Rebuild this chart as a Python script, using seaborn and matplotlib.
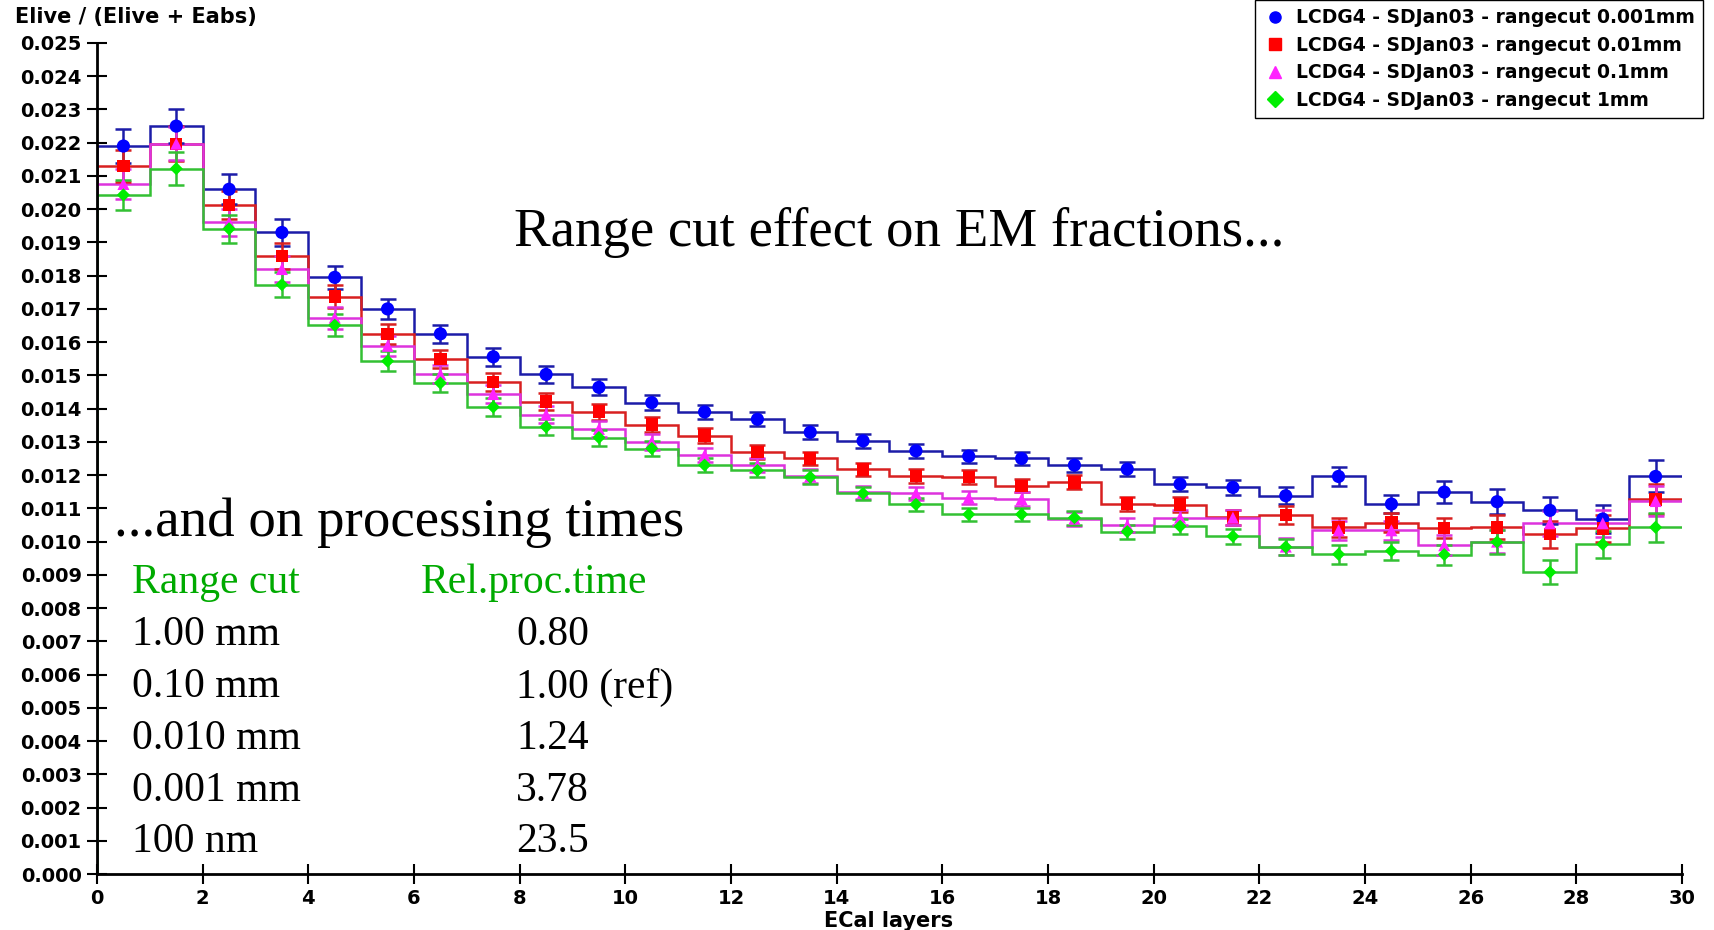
import numpy as np
import pandas as pd
import matplotlib.pyplot as plt
import seaborn as sns

# ECal layer bins
edges = np.arange(31)
layers = edges[:-1] + 0.5

# Elive / (Elive + Eabs) per layer, one array per range cut
cut_0001 = [0.0219, 0.0225, 0.0206, 0.0193, 0.01795, 0.0170, 0.01625, 0.01556, 0.01503, 0.01464,
            0.01418, 0.0139, 0.01368, 0.01329, 0.01303, 0.01273, 0.01257, 0.0125, 0.0123, 0.01218,
            0.01173, 0.01163, 0.01138, 0.01196, 0.01113, 0.01149, 0.0112, 0.01094, 0.01068, 0.01196]
cut_001 = [0.0213, 0.02197, 0.02013, 0.01859, 0.01737, 0.01625, 0.01549, 0.0148, 0.01421, 0.01391,
           0.01352, 0.01319, 0.0127, 0.0125, 0.01217, 0.01197, 0.01194, 0.01168, 0.01178, 0.01114,
           0.01111, 0.01073, 0.0108, 0.01043, 0.01057, 0.01041, 0.01043, 0.01022, 0.0104, 0.01127]
cut_01 = [0.02076, 0.02197, 0.0196, 0.0182, 0.01674, 0.01589, 0.01503, 0.01444, 0.01382, 0.01339,
          0.013, 0.0126, 0.0123, 0.01197, 0.01148, 0.01145, 0.01132, 0.01128, 0.01069, 0.01049,
          0.01072, 0.01072, 0.00985, 0.01034, 0.01034, 0.00989, 0.0100, 0.01055, 0.01055, 0.01122]
cut_1 = [0.02043, 0.02122, 0.01941, 0.01773, 0.01651, 0.01543, 0.01477, 0.01405, 0.01345, 0.01313,
         0.0128, 0.0123, 0.01214, 0.01194, 0.01145, 0.01112, 0.01082, 0.01082, 0.01072, 0.0103,
         0.01046, 0.01016, 0.00984, 0.00962, 0.00972, 0.00961, 0.00999, 0.00908, 0.00992, 0.01043]

err_0001 = [0.0005, 0.0005, 0.00045, 0.0004, 0.00035, 0.0003, 0.00028, 0.00027, 0.00025, 0.00024,
            0.00023, 0.00022, 0.00021, 0.00021, 0.0002, 0.0002, 0.0002, 0.0002, 0.00021, 0.00021,
            0.00022, 0.00023, 0.00025, 0.00029, 0.00028, 0.00032, 0.00038, 0.0004, 0.00042, 0.00048]
err_001 = [0.00048, 0.00052, 0.00043, 0.0004, 0.00034, 0.0003, 0.00028, 0.00026, 0.00025, 0.00024,
           0.00023, 0.00022, 0.00021, 0.00021, 0.0002, 0.0002, 0.0002, 0.0002, 0.00021, 0.00021,
           0.00022, 0.00023, 0.00026, 0.00028, 0.00029, 0.00031, 0.00036, 0.0004, 0.00041, 0.00045]
err_01 = [0.00045, 0.0005, 0.00042, 0.00038, 0.00033, 0.0003, 0.00027, 0.00026, 0.00025, 0.00024,
          0.00023, 0.00022, 0.00021, 0.00021, 0.0002, 0.0002, 0.0002, 0.0002, 0.00021, 0.00021,
          0.00022, 0.00023, 0.00025, 0.00028, 0.00028, 0.0003, 0.00035, 0.00038, 0.0004, 0.00044]
err_1 = [0.00045, 0.0005, 0.00042, 0.00038, 0.00033, 0.0003, 0.00027, 0.00026, 0.00025, 0.00024,
         0.00023, 0.00022, 0.00021, 0.00021, 0.0002, 0.0002, 0.0002, 0.0002, 0.00021, 0.00021,
         0.00022, 0.00023, 0.00025, 0.00028, 0.00028, 0.0003, 0.00035, 0.00036, 0.0004, 0.00044]

series_labels = ['LCDG4 - SDJan03 - rangecut 0.001mm',
                 'LCDG4 - SDJan03 - rangecut 0.01mm',
                 'LCDG4 - SDJan03 - rangecut 0.1mm',
                 'LCDG4 - SDJan03 - rangecut 1mm']
series_values = [cut_0001, cut_001, cut_01, cut_1]
series_errors = [err_0001, err_001, err_01, err_1]
marker_colors = ['#0000ff', '#ff0000', '#ff22ff', '#00ee00']
line_colors = ['#1c1ca8', '#d82020', '#dd33dd', '#33c033']
marker_shapes = ['o', 's', '^', 'D']
marker_sizes = [90, 80, 75, 45]

# processing time table
table_cuts = ['1.00 mm', '0.10 mm', '0.010 mm', '0.001 mm', '100 nm']
table_times = ['0.80', '1.00 (ref)', '1.24', '3.78', '23.5']

rows = []
for lab, vals in zip(series_labels, series_values):
    for x, v in zip(layers, vals):
        rows.append({'layer': x, 'frac': v, 'cut': lab})
df = pd.DataFrame(rows)

sns.set_theme(style='white')
plt.rcParams['font.family'] = ['DejaVu Sans']
plt.rcParams['text.color'] = 'black'
plt.rcParams['xtick.color'] = 'black'
plt.rcParams['ytick.color'] = 'black'

fig = plt.figure(figsize=(17.15, 9.3), dpi=100)
ax = fig.add_axes([97 / 1715, 56 / 930, 1585 / 1715, 831 / 930])

for vals, errs, lc in zip(series_values, series_errors, line_colors):
    ax.stairs(vals, edges, baseline=None, color=lc, linewidth=1.8, zorder=2)
    ax.vlines(edges[0], 0, vals[0], color=lc, linewidth=1.8, zorder=2)
    ax.errorbar(layers, vals, yerr=errs, fmt='none', ecolor=lc, elinewidth=1.8,
                capsize=6, capthick=1.8, zorder=3)

sns.scatterplot(data=df, x='layer', y='frac', hue='cut', style='cut', size='cut',
                hue_order=series_labels, palette=marker_colors,
                markers=dict(zip(series_labels, marker_shapes)),
                sizes=dict(zip(series_labels, marker_sizes)),
                linewidth=0, legend=False, zorder=4, ax=ax)

ax.set_xlim(0, 30)
ax.set_ylim(0, 0.025)
ax.set_xticks(np.arange(0, 31, 2))
ax.set_yticks(np.arange(0, 0.0251, 0.001))
ax.yaxis.set_major_formatter(plt.FormatStrFormatter('%.3f'))
ax.set_xlabel('')
ax.set_ylabel('')
for side in ['top', 'right']:
    ax.spines[side].set_visible(False)
for side in ['left', 'bottom']:
    ax.spines[side].set_color('black')
    ax.spines[side].set_linewidth(2)
ax.tick_params(axis='both', direction='inout', length=15, width=1.5, color='black',
               labelsize=14, labelcolor='black', left=True, bottom=True)
for t in ax.get_xticklabels() + ax.get_yticklabels():
    t.set_fontweight('bold')
ax.patch.set_alpha(0)

fig.text(15 / 1715, 1 - 17 / 930, 'Elive / (Elive + Eabs)', fontsize=15, fontweight='bold',
         va='center', ha='left')
fig.text(889 / 1715, 1 - 921 / 930, 'ECal layers', fontsize=15, fontweight='bold',
         va='center', ha='center')

# legend
handles = [plt.Line2D([], [], linestyle='none', marker=m, markersize=8, color=c)
           for m, c in zip(marker_shapes, marker_colors)]
fig.legend(handles, series_labels, loc='upper right', bbox_to_anchor=(1703 / 1715, 1.0),
           frameon=True, fancybox=False, edgecolor='black', framealpha=1,
           prop={'weight': 'bold', 'size': 13.5}, handletextpad=0.5, handlelength=1.2,
           labelspacing=0.45, borderpad=0.45, borderaxespad=0)

# slide annotations
serif = ['Liberation Serif', 'DejaVu Serif']
green = '#00aa00'
fig.text(514 / 1715, 1 - 233 / 930, 'Range cut effect on EM fractions...', family=serif,
         fontsize=39.5, va='center', ha='left')
fig.text(114 / 1715, 1 - 523 / 930, '...and on processing times', family=serif,
         fontsize=39.5, va='center', ha='left')
fig.text(132 / 1715, 1 - 583 / 930, 'Range cut', family=serif, fontsize=30, color=green,
         va='center', ha='left')
fig.text(421 / 1715, 1 - 583 / 930, 'Rel.proc.time', family=serif, fontsize=30, color=green,
         va='center', ha='left')
row_y = [635, 687, 739, 791, 842]
for y, c, t in zip(row_y, table_cuts, table_times):
    fig.text(132 / 1715, 1 - y / 930, c, family=serif, fontsize=30, va='center', ha='left')
    fig.text(516 / 1715, 1 - y / 930, t, family=serif, fontsize=30, va='center', ha='left')

fig.savefig('out.png', dpi=100)
